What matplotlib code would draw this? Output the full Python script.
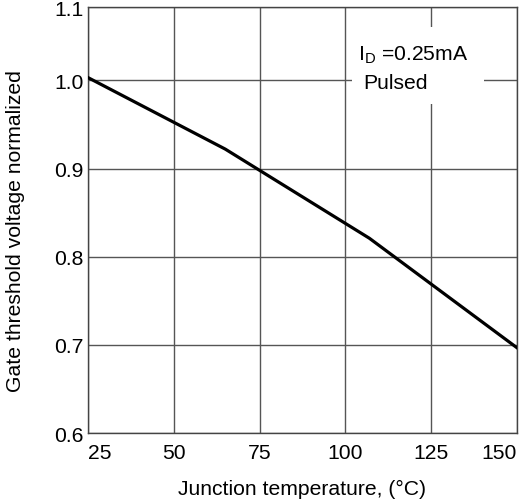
import matplotlib
matplotlib.use('Agg')
import matplotlib.pyplot as plt
from matplotlib.patches import Rectangle

plt.rcParams['font.family'] = ['Liberation Sans', 'DejaVu Sans']
plt.rcParams['mathtext.default'] = 'regular'

# data
temp_c = [25, 65, 107, 150]
vth_norm = [1.003, 0.922, 0.821, 0.697]

x_ticks = [25, 50, 75, 100, 125, 150]
y_ticks = [0.6, 0.7, 0.8, 0.9, 1.0]
y_top = 1.083  # plot top sits a bit below 1.1 but is labelled 1.1
y_tick_labels = ['0.6', '0.7', '0.8', '0.9', '1.0', '1.1']

fs = 15.2

fig = plt.figure(figsize=(5.21, 5.02), dpi=100)
ax = fig.add_axes([0.169, 0.135, 0.823, 0.849])

ax.set_xlim(25, 150)
ax.set_ylim(0.6, y_top)
ax.set_xticks(x_ticks)
ax.set_yticks(y_ticks + [y_top])
ax.set_yticklabels(y_tick_labels)
ax.tick_params(length=0, labelsize=fs)
ax.tick_params(axis='x', pad=7)
ax.tick_params(axis='y', pad=3)
ax.grid(True, color='#555555', lw=1)
ax.set_axisbelow(True)
for s in ax.spines.values():
    s.set_color('#444444')
    s.set_linewidth(1)

xl = ax.get_xticklabels()
xl[0].set_ha('left')
xl[-1].set_ha('right')

ax.plot(temp_c, vth_norm, color='black', lw=2.3, zorder=3)

# white box that hides the grid behind the condition text
ax.add_patch(Rectangle((0.615, 0.772), 0.308, 0.181, transform=ax.transAxes,
                       facecolor='white', edgecolor='none', zorder=2))
ax.text(0.629, 0.890, 'I$_D$ =0.25mA', transform=ax.transAxes,
        fontsize=fs, va='center', ha='left', zorder=4)
ax.text(0.641, 0.824, 'Pulsed', transform=ax.transAxes,
        fontsize=fs, va='center', ha='left', zorder=4)

ax.set_xlabel('Junction temperature, (°C)', fontsize=fs)
ax.set_ylabel('Gate threshold voltage normalized', fontsize=fs)
ax.xaxis.set_label_coords(0.5, -0.108)
ax.yaxis.set_label_coords(-0.147, 0.477)

fig.savefig('out.png', dpi=100)
